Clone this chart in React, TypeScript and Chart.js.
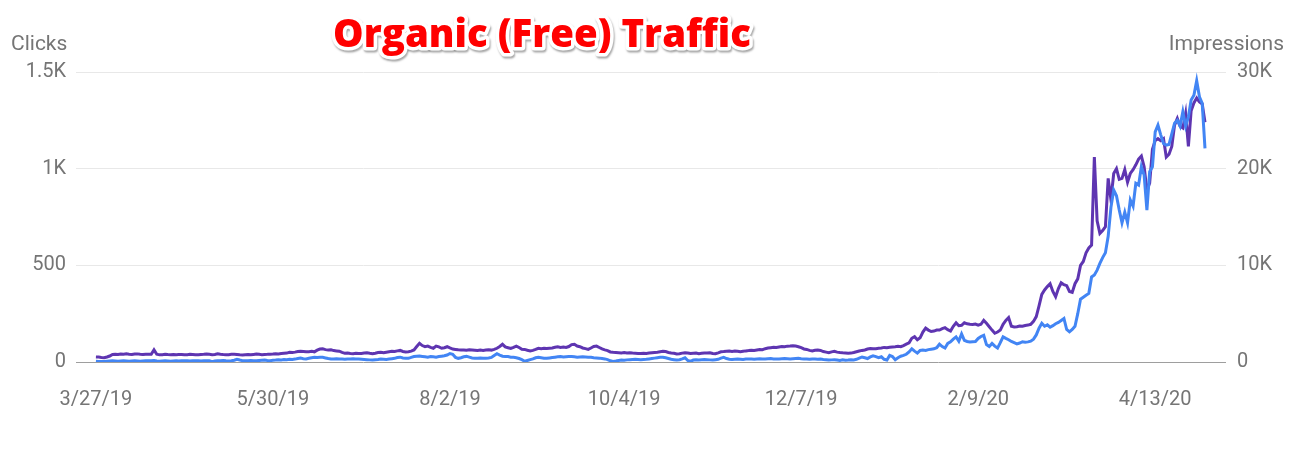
import React, { useEffect, useRef } from 'react';
import { Chart, registerables } from 'chart.js';

Chart.register(...registerables);

// Daily values, 3/27/19 (day 0) to 5/1/20 (day 401)
const impressions = [
  520, 510, 470, 440, 520, 620, 780, 800, 770, 830,
  810, 840, 800, 780, 830, 840, 800, 780, 810, 800,
  800, 1250, 800, 740, 760, 790, 770, 760, 780, 750,
  770, 780, 740, 760, 790, 780, 760, 740, 770, 790,
  820, 790, 760, 780, 850, 800, 770, 750, 760, 790,
  800, 780, 750, 730, 760, 770, 740, 780, 820, 790,
  760, 780, 790, 810, 830, 860, 840, 880, 900, 920,
  1000, 990, 1020, 1080, 1110, 1090, 1060, 1070, 1100, 1050,
  1220, 1340, 1360, 1280, 1230, 1260, 1180, 1150, 1120, 1000,
  900, 930, 880, 850, 910, 870, 880, 920, 950, 900,
  860, 910, 980, 1000, 950, 1010, 1060, 1100, 1080, 1150,
  1200, 1090, 1040, 1060, 1120, 1250, 1600, 1930, 1700, 1580,
  1640, 1520, 1420, 1650, 1560, 1420, 1480, 1580, 1450, 1340,
  1300, 1260, 1240, 1250, 1220, 1270, 1240, 1210, 1180, 1230,
  1200, 1240, 1260, 1230, 1300, 1420, 1600, 1830, 1560, 1480,
  1400, 1520, 1650, 1500, 1320, 1300, 1210, 1140, 1200, 1300,
  1420, 1380, 1420, 1400, 1430, 1450, 1520, 1580, 1510, 1540,
  1500, 1600, 1800, 1830, 1650, 1580, 1450, 1380, 1300, 1450,
  1600, 1650, 1500, 1350, 1250, 1180, 1040, 1000, 980, 960,
  940, 970, 930, 960, 920, 900, 880, 890, 900, 870,
  920, 960, 990, 1020, 1060, 1100, 1080, 990, 940, 900,
  830, 850, 920, 960, 940, 880, 900, 920, 860, 900,
  940, 920, 960, 880, 850, 950, 1060, 1080, 1120, 1140,
  1100, 1140, 1120, 1060, 1110, 1150, 1180, 1220, 1200, 1250,
  1300, 1280, 1380, 1440, 1480, 1520, 1500, 1560, 1600, 1580,
  1640, 1660, 1690, 1650, 1580, 1480, 1350, 1300, 1200, 1140,
  1220, 1240, 1200, 1080, 1020, 960, 1050, 1100, 1020, 980,
  950, 930, 900, 920, 980, 1060, 1140, 1200, 1250, 1340,
  1400, 1360, 1380, 1420, 1450, 1510, 1480, 1530, 1560, 1580,
  1620, 1580, 1700, 1850, 1990, 2450, 2620, 2300, 2500, 3100,
  3500, 3300, 3150, 3200, 3300, 3310, 3450, 3550, 3350, 3200,
  3700, 4050, 3750, 3800, 4060, 3950, 3900, 3870, 3930, 3820,
  3900, 4300, 4000, 3650, 3300, 2970, 3100, 3300, 3900, 4300,
  4600, 3700, 3620, 3650, 3720, 3700, 3780, 3820, 3900, 4200,
  4700, 5800, 7000, 7450, 7800, 8100, 7300, 6750, 7600, 8200,
  8000, 7900, 7300, 7200, 8100, 8600, 10000, 10400, 11300, 11800,
  12100, 21200, 14600, 13300, 13600, 14000, 19000, 16800, 19500, 20000,
  18900, 19000, 19900, 18600, 19500, 19900, 20400, 21000, 21300, 20200,
  17800, 18500, 22000, 22900, 23100, 22900, 23100, 21200, 21500, 22300,
  24500, 25200, 24400, 24200, 25700, 22300, 26000, 26800, 27300, 26900,
  26700, 24800,
];

const clicks = [
  4, 3, 2, 3, 4, 5, 6, 5, 4, 5,
  6, 5, 4, 5, 6, 5, 4, 5, 6, 7,
  6, 8, 5, 4, 5, 6, 5, 4, 5, 6,
  5, 6, 7, 6, 5, 6, 7, 6, 5, 6,
  7, 6, 2, 5, 6, 7, 8, 6, 5, 6,
  9, 14, 10, 7, 6, 7, 8, 6, 7, 8,
  9, 10, 8, 7, 9, 10, 12, 11, 13, 12,
  14, 13, 15, 18, 20, 17, 16, 19, 22, 24,
  23, 25, 24, 21, 18, 16, 15, 17, 16, 15,
  14, 16, 15, 17, 16, 15, 14, 13, 12, 11,
  10, 12, 13, 15, 14, 13, 15, 17, 19, 23,
  25, 21, 20, 19, 24, 28, 30, 31, 29, 27,
  25, 28, 27, 25, 28, 30, 32, 36, 44, 40,
  24, 19, 22, 27, 29, 25, 21, 20, 19, 21,
  20, 19, 21, 24, 34, 43, 36, 30, 29, 28,
  25, 24, 22, 18, 12, 4, 8, 12, 16, 22,
  24, 22, 20, 19, 21, 23, 25, 27, 28, 26,
  27, 28, 29, 27, 25, 26, 27, 26, 25, 24,
  22, 21, 20, 18, 16, 12, 6, 3, 5, 8,
  10, 9, 11, 12, 13, 14, 13, 12, 13, 14,
  16, 18, 20, 22, 24, 25, 22, 18, 14, 12,
  10, 12, 16, 22, 8, 3, 10, 12, 11, 12,
  13, 12, 11, 10, 12, 14, 20, 24, 18, 14,
  13, 14, 15, 14, 13, 15, 16, 15, 14, 16,
  17, 16, 15, 17, 18, 16, 15, 16, 17, 18,
  17, 16, 17, 18, 19, 17, 16, 15, 14, 16,
  15, 14, 15, 13, 12, 10, 11, 12, 10, 8,
  11, 9, 10, 12, 11, 14, 20, 26, 22, 18,
  26, 32, 28, 22, 27, 14, 10, 34, 28, 12,
  22, 30, 34, 40, 52, 68, 56, 46, 60, 62,
  60, 64, 66, 68, 74, 92, 80, 72, 96, 104,
  118, 130, 108, 145, 112, 106, 104, 105, 106, 122,
  132, 138, 90, 80, 96, 82, 72, 100, 130, 122,
  115, 106, 100, 94, 98, 105, 102, 104, 108, 118,
  140, 175, 200, 185, 192, 180, 188, 198, 205, 215,
  225, 168, 156, 168, 185, 250, 325, 335, 345, 355,
  440, 450, 475, 510, 540, 565, 650, 800, 890, 860,
  786, 720, 775, 720, 838, 806, 924, 915, 1010, 967,
  786, 984, 1010, 1190, 1225, 1175, 1130, 1122, 1125, 1180,
  1235, 1250, 1220, 1295, 1220, 1268, 1355, 1380, 1455, 1372,
  1338, 1105,
];

const xTickDays = [0, 64, 128, 191, 255, 319, 383];
const xTickLabels = ['3/27/19', '5/30/19', '8/2/19', '10/4/19', '12/7/19', '2/9/20', '4/13/20'];
const clickTicks = [0, 500, 1000, 1500];
const clickTickLabels = ['0', '500', '1K', '1.5K'];
const impressionTicks = [0, 10000, 20000, 30000];
const impressionTickLabels = ['0', '10K', '20K', '30K'];

const TITLE = 'Organic (Free) Traffic';
const LEFT_AXIS_TITLE = 'Clicks';
const RIGHT_AXIS_TITLE = 'Impressions';

const W = 1295;
const H = 456;
const GREY = '#757575';
const FONT = 'Roboto, "Noto Sans", sans-serif';

const textPlugin = {
  id: 'textPlugin',
  afterDraw(chart: any) {
    const ctx = chart.ctx as CanvasRenderingContext2D;
    ctx.save();
    // axis titles
    ctx.fillStyle = GREY;
    ctx.font = `21px ${FONT}`;
    ctx.textBaseline = 'alphabetic';
    ctx.textAlign = 'left';
    ctx.fillText(LEFT_AXIS_TITLE, 11, 50);
    ctx.textAlign = 'right';
    ctx.fillText(RIGHT_AXIS_TITLE, 1284, 50);

    // main title
    let size = 39;
    ctx.font = `800 ${size}px "Open Sans", sans-serif`;
    const w = ctx.measureText(TITLE).width;
    size = size * (418 / w);
    ctx.font = `800 ${size.toFixed(2)}px "Open Sans", sans-serif`;
    ctx.textAlign = 'center';
    ctx.lineJoin = 'round';
    ctx.shadowColor = 'rgba(0,0,0,0.35)';
    ctx.shadowOffsetX = 1;
    ctx.shadowOffsetY = 2;
    ctx.shadowBlur = 2;
    ctx.strokeStyle = '#ffffff';
    ctx.lineWidth = 7;
    ctx.strokeText(TITLE, 542, 47);
    ctx.shadowColor = 'transparent';
    ctx.fillStyle = '#ff0000';
    ctx.fillText(TITLE, 542, 47);
    ctx.restore();
  },
};

export default function App() {
  const ref = useRef<HTMLCanvasElement>(null);

  useEffect(() => {
    const canvas = ref.current;
    if (!canvas) return;
    const chart = new Chart(canvas, {
      type: 'line',
      data: {
        datasets: [
          {
            label: 'Clicks',
            data: clicks.map((v, i) => ({ x: i, y: v })),
            yAxisID: 'yClicks',
            borderColor: '#4285f4',
            backgroundColor: '#4285f4',
            borderWidth: 3,
            pointRadius: 0,
            tension: 0,
            order: 0,
          },
          {
            label: 'Impressions',
            data: impressions.map((v, i) => ({ x: i, y: v })),
            yAxisID: 'yImpr',
            borderColor: '#5e35b1',
            backgroundColor: '#5e35b1',
            borderWidth: 3,
            pointRadius: 0,
            tension: 0,
            order: 1,
          },
        ],
      },
      options: {
        responsive: false,
        animation: false,
        layout: { padding: { top: 72, left: 0, right: 0, bottom: 0 } },
        plugins: {
          legend: { display: false },
          tooltip: { enabled: false },
          title: { display: false },
        },
        scales: {
          x: {
            type: 'linear',
            min: -7.2,
            max: 408.6,
            grid: { display: false, drawTicks: false },
            border: { display: false },
            afterBuildTicks: (s: any) => {
              s.ticks = xTickDays.map((v) => ({ value: v }));
            },
            afterFit: (s: any) => {
              s.height = 94;
            },
            ticks: {
              autoSkip: false,
              maxRotation: 0,
              minRotation: 0,
              padding: 26,
              color: GREY,
              font: { family: FONT, size: 20 },
              callback: (_v: any, i: number) => xTickLabels[i],
            },
          },
          yClicks: {
            type: 'linear',
            position: 'left',
            min: 0,
            max: 1500,
            afterBuildTicks: (s: any) => {
              s.ticks = clickTicks.map((v) => ({ value: v }));
            },
            afterFit: (s: any) => {
              s.width = 76;
            },
            grid: {
              drawTicks: false,
              lineWidth: 1,
              color: (c: any) => (c.tick && c.tick.value === 0 ? '#9e9e9e' : '#e8e8e8'),
            },
            border: { display: false },
            ticks: {
              padding: 10,
              color: GREY,
              font: { family: FONT, size: 20 },
              callback: (_v: any, i: number) => clickTickLabels[i],
            },
          },
          yImpr: {
            type: 'linear',
            position: 'right',
            min: 0,
            max: 30000,
            afterBuildTicks: (s: any) => {
              s.ticks = impressionTicks.map((v) => ({ value: v }));
            },
            afterFit: (s: any) => {
              s.width = 69;
            },
            grid: { display: false, drawTicks: false },
            border: { display: false },
            ticks: {
              padding: 11,
              color: GREY,
              font: { family: FONT, size: 20 },
              callback: (_v: any, i: number) => impressionTickLabels[i],
            },
          },
        },
      },
      plugins: [textPlugin],
    });
    return () => chart.destroy();
  }, []);

  return (
    <div style={{ position: 'fixed', left: 0, top: 0, width: W, height: H, background: '#ffffff' }}>
      <canvas ref={ref} width={W} height={H} style={{ width: W, height: H, display: 'block' }} />
    </div>
  );
}
